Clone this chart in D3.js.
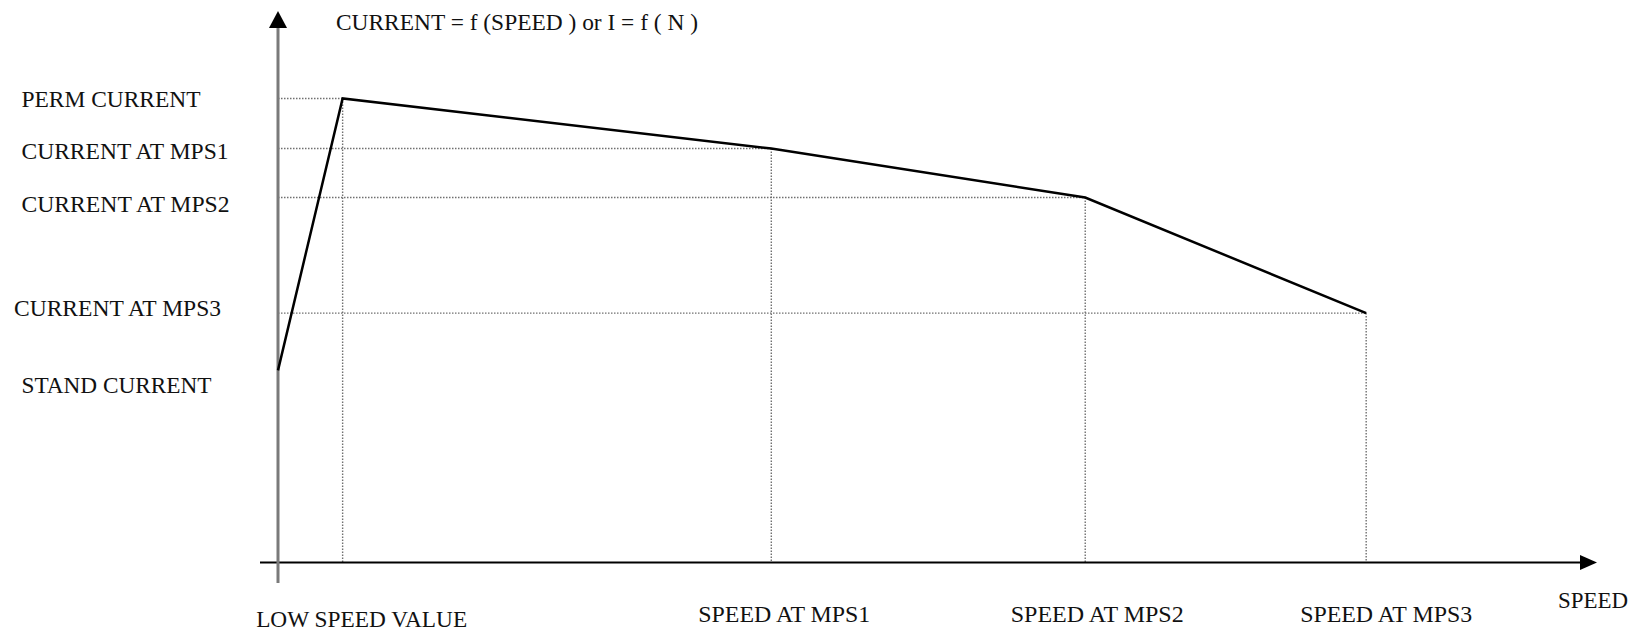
<!DOCTYPE html>
<html>
<head>
<meta charset="utf-8">
<script src="https://cdn.jsdelivr.net/npm/d3@7"></script>
<style>
  html, body { margin: 0; padding: 0; background: #fff; }
  svg { display: block; }
  text { font-family: "Liberation Serif", "Times New Roman", serif; fill: #111; }
</style>
</head>
<body>
<script>
// ---- data (abstract units) ----
const pointNames   = ["STAND", "PERM", "MPS1", "MPS2", "MPS3"];
const speedValues  = [0, 4.9, 37.4, 61.2, 82.5];
const currentValues = [34.9, 84.3, 75.2, 66.3, 45.3];

const yTickLabels = ["STAND CURRENT", "PERM CURRENT", "CURRENT AT MPS1", "CURRENT AT MPS2", "CURRENT AT MPS3"];
const xTickLabels = ["LOW SPEED VALUE", "SPEED AT MPS1", "SPEED AT MPS2", "SPEED AT MPS3"];
const xTickValues = [4.9, 37.4, 61.2, 82.5];
const titleText = "CURRENT = f (SPEED ) or I = f ( N )";
const xAxisName = "SPEED";

// ---- layout ----
const W = 1647, H = 631;
const svg = d3.select("body").append("svg").attr("width", W).attr("height", H);

const x = d3.scaleLinear().domain([0, 100]).range([278, 1597]);
const y = d3.scaleLinear().domain([0, 100]).range([562.5, 12]);

const pts = speedValues.map((s, i) => ({ s, c: currentValues[i] }));

// dotted guide lines (skip stand point)
const guides = svg.append("g")
  .attr("stroke", "#707070").attr("stroke-width", 1.4)
  .attr("stroke-dasharray", "1.5,1.5").attr("fill", "none");
pts.slice(1).forEach(p => {
  guides.append("line")
    .attr("x1", x(0)).attr("x2", x(p.s))
    .attr("y1", y(p.c)).attr("y2", y(p.c));
  guides.append("line")
    .attr("x1", x(p.s)).attr("x2", x(p.s))
    .attr("y1", y(p.c)).attr("y2", y(0));
});

// x axis (black) with arrow
const axisG = svg.append("g");
axisG.append("line")
  .attr("x1", x(0) - 18).attr("x2", x(100) - 16)
  .attr("y1", y(0)).attr("y2", y(0))
  .attr("stroke", "#000").attr("stroke-width", 2);
axisG.append("path")
  .attr("d", `M${x(100)},${y(0)} L${x(100) - 17},${y(0) - 7.5} L${x(100) - 17},${y(0) + 7.5} Z`)
  .attr("fill", "#000");

// y axis (gray) with arrow
axisG.append("line")
  .attr("x1", x(0)).attr("x2", x(0))
  .attr("y1", y(0) + 20.5).attr("y2", y(100) + 15)
  .attr("stroke", "#7a7a7a").attr("stroke-width", 3);
axisG.append("path")
  .attr("d", `M${x(0)},${y(100) - 1} L${x(0) - 9},${y(100) + 16} L${x(0) + 9},${y(100) + 16} Z`)
  .attr("fill", "#000");

// the characteristic curve
svg.append("path")
  .datum(pts)
  .attr("d", d3.line().x(d => x(d.s)).y(d => y(d.c)))
  .attr("fill", "none").attr("stroke", "#000")
  .attr("stroke-width", 2.5).attr("stroke-linejoin", "miter");

const FS = 24;

// y labels (left aligned, placed relative to each current level)
const yLabelLayout = { // [x start, baseline offset from level, width]
  "STAND CURRENT":   [21.5, 22.5, 190],
  "PERM CURRENT":    [21.5, 9, 179],
  "CURRENT AT MPS1": [21.5, 10, 207],
  "CURRENT AT MPS2": [21.5, 14, 208],
  "CURRENT AT MPS3": [14, 3, 207]
};
yTickLabels.forEach((lab, i) => {
  const [lx, dy, w] = yLabelLayout[lab];
  svg.append("text")
    .attr("x", lx).attr("y", y(currentValues[i]) + dy)
    .attr("font-size", FS)
    .attr("textLength", w).attr("lengthAdjust", "spacingAndGlyphs")
    .text(lab);
});

// x labels (centered near each speed level)
const xLabelLayout = { // [dx from centre, baseline, width]
  "LOW SPEED VALUE": [19, 627, 211],
  "SPEED AT MPS1":   [13, 622, 172],
  "SPEED AT MPS2":   [12, 622, 173],
  "SPEED AT MPS3":   [20, 622, 172]
};
xTickLabels.forEach((lab, i) => {
  const [dx, by, w] = xLabelLayout[lab];
  const cx = x(xTickValues[i]) + dx;
  svg.append("text")
    .attr("x", cx - w / 2).attr("y", by)
    .attr("font-size", FS)
    .attr("textLength", w).attr("lengthAdjust", "spacingAndGlyphs")
    .text(lab);
});

// axis name
svg.append("text")
  .attr("x", 1558).attr("y", 608)
  .attr("font-size", FS)
  .attr("textLength", 70).attr("lengthAdjust", "spacingAndGlyphs")
  .text(xAxisName);

// title
svg.append("text")
  .attr("x", 336).attr("y", 30)
  .attr("font-size", FS)
  .attr("textLength", 362).attr("lengthAdjust", "spacingAndGlyphs")
  .text(titleText);
</script>
</body>
</html>
